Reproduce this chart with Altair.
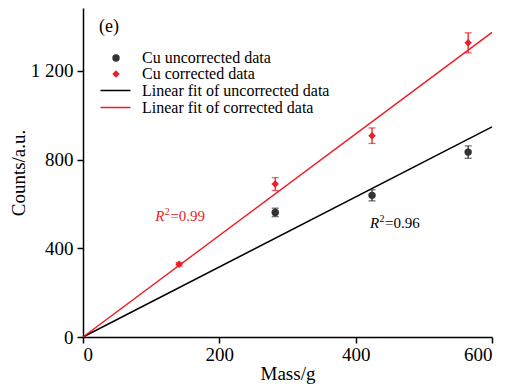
import altair as alt
import pandas as pd

# ---- data ----
mass_corrected = [141, 282, 424, 565]
counts_corrected = [328, 690, 908, 1327]
err_corrected = [8, 29, 35, 45]
mass_uncorrected = [282, 424, 565]
counts_uncorrected = [562, 639, 834]
err_uncorrected = [19, 25, 28]
fit_mass = [0, 600]
fit_uncorrected = [0, 948]
fit_corrected = [0, 1374]
x_ticks = [0, 200, 400, 600]
y_ticks = [0, 400, 800, 1200]
point_series = ["Cu uncorrected data", "Cu corrected data"]
point_colors = ["#333333", "#ee1c25"]
point_shapes = ["circle", "diamond"]
fit_series = ["Linear fit of uncorrected data", "Linear fit of corrected data"]
fit_colors = ["#000000", "#ee1c25"]
r2_texts = ["=0.99", "=0.96"]
r2_colors = ["#ee1c25", "#000000"]
r2_mass = [106, 421]
r2_counts = [522, 490]

FONT = "Liberation Serif"

pts = pd.DataFrame({
    "mass": mass_uncorrected + mass_corrected,
    "counts": counts_uncorrected + counts_corrected,
    "err": err_uncorrected + err_corrected,
    "series": [point_series[0]] * len(mass_uncorrected) + [point_series[1]] * len(mass_corrected),
})
pts["lo"] = pts["counts"] - pts["err"]
pts["hi"] = pts["counts"] + pts["err"]

fits = pd.DataFrame({
    "mass": fit_mass + fit_mass,
    "counts": fit_uncorrected + fit_corrected,
    "series": [fit_series[0]] * 2 + [fit_series[1]] * 2,
})

x_scale = alt.Scale(domain=[0, 600], nice=False)
y_scale = alt.Scale(domain=[0, 1484], nice=False)
x_axis = alt.Axis(values=x_ticks, title="Mass/g", format="d", labelPadding=2, titlePadding=0)
y_axis = alt.Axis(values=y_ticks, title="Counts/a.u.",
                  labelExpr="replace(format(datum.value, ','), ',', ' ')",
                  labelPadding=4, titlePadding=2)
pcolor = alt.Scale(domain=point_series, range=point_colors)
fcolor = alt.Scale(domain=fit_series, range=fit_colors)


def X(f):
    return alt.X(f, scale=x_scale, axis=x_axis)


def Y(f):
    return alt.Y(f, scale=y_scale, axis=y_axis)


def point_legend():
    return alt.Legend(title=None, orient="none", legendX=25, legendY=42,
                      labelFont=FONT, labelFontSize=16, labelColor="black", labelLimit=0,
                      symbolSize=55, labelOffset=18, rowPadding=-1, padding=0)


lines = alt.Chart(fits).mark_line(strokeWidth=1.5).encode(
    x=X("mass:Q"), y=Y("counts:Q"),
    color=alt.Color("series:N", scale=fcolor,
                    legend=alt.Legend(title=None, orient="none", legendX=24, legendY=74,
                                      labelFont=FONT, labelFontSize=16, labelColor="black",
                                      labelLimit=0, symbolType="M-2,0H2",
                                      symbolSize=225, symbolStrokeWidth=1.5, labelOffset=18,
                                      rowPadding=-1, padding=0)),
)

bars = alt.Chart(pts).mark_rule(strokeWidth=1.3).encode(
    x=X("mass:Q"), y=Y("lo:Q"), y2="hi:Q",
    color=alt.Color("series:N", scale=pcolor, legend=None),
)
cap_lo = alt.Chart(pts).mark_tick(orient="horizontal", size=7, thickness=1.3).encode(
    x=X("mass:Q"), y=Y("lo:Q"),
    color=alt.Color("series:N", scale=pcolor, legend=None),
)
cap_hi = alt.Chart(pts).mark_tick(orient="horizontal", size=7, thickness=1.3).encode(
    x=X("mass:Q"), y=Y("hi:Q"),
    color=alt.Color("series:N", scale=pcolor, legend=None),
)

points = alt.Chart(pts).mark_point(filled=True, opacity=1, size=55).encode(
    x=X("mass:Q"), y=Y("counts:Q"),
    color=alt.Color("series:N", scale=pcolor, legend=point_legend()),
    shape=alt.Shape("series:N", scale=alt.Scale(domain=point_series, range=point_shapes),
                    legend=point_legend()),
)

layers = [lines, bars, cap_lo, cap_hi, points]

for i in range(len(r2_texts)):
    ann = pd.DataFrame({"mass": [r2_mass[i]], "counts": [r2_counts[i]], "t": [r2_texts[i]]})
    base = alt.Chart(ann)
    layers.append(base.mark_text(text="R", font=FONT, fontSize=15, fontStyle="italic",
                                 align="left", baseline="alphabetic", color=r2_colors[i])
                  .encode(x=X("mass:Q"), y=Y("counts:Q")))
    layers.append(base.mark_text(text="2", font=FONT, fontSize=10, dx=9.5, dy=-6,
                                 align="left", baseline="alphabetic", color=r2_colors[i])
                  .encode(x=X("mass:Q"), y=Y("counts:Q")))
    layers.append(base.mark_text(font=FONT, fontSize=15, dx=15,
                                 align="left", baseline="alphabetic", color=r2_colors[i])
                  .encode(x=X("mass:Q"), y=Y("counts:Q"), text="t:N"))

panel = alt.Chart(pd.DataFrame({"t": ["(e)"]})).mark_text(
    font=FONT, fontSize=18, align="left", baseline="middle", color="black"
).encode(x=alt.value(16), y=alt.value(19), text="t:N")
layers.append(panel)

chart = alt.layer(*layers).resolve_scale(
    color="independent", shape="independent"
).properties(
    width=409, height=329,
    padding={"left": 75, "top": 0, "right": 6, "bottom": 47},
    autosize=alt.AutoSizeParams(type="none"),
    background="white",
).configure_axis(
    domainColor="black", domainWidth=1.5, tickColor="black", tickWidth=1.5, tickSize=6,
    labelFont=FONT, labelFontSize=19, labelColor="black",
    titleFont=FONT, titleFontSize=19, titleFontWeight="normal", titleColor="black",
    grid=False,
).configure_view(stroke=None)

chart.save("out.html", embed_options={"renderer": "svg", "actions": False})
